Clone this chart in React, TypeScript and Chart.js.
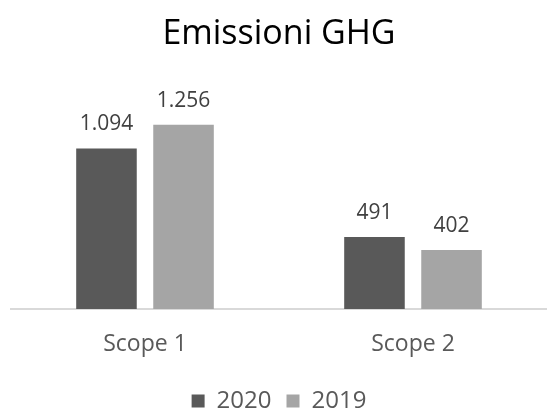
import React, { useEffect, useRef } from "react";
import { Chart, registerables } from "chart.js";

Chart.register(...registerables);

const categories = ["Scope 1", "Scope 2"];
const seriesNames = ["2020", "2019"];
const values2020 = [1094, 491];
const values2019 = [1256, 402];
const chartTitle = "Emissioni GHG";

const FONT = "'Open Sans', 'DejaVu Sans', sans-serif";

function fmt(v: number): string {
  return String(v).replace(/\B(?=(\d{3})+(?!\d))/g, ".");
}

const dataLabels = {
  id: "dataLabels",
  afterDatasetsDraw(chart: any) {
    const ctx = chart.ctx;
    ctx.save();
    ctx.font = `21px ${FONT}`;
    ctx.fillStyle = "#404040";
    ctx.textAlign = "center";
    ctx.textBaseline = "alphabetic";
    chart.data.datasets.forEach((ds: any, i: number) => {
      const meta = chart.getDatasetMeta(i);
      meta.data.forEach((el: any, j: number) => {
        ctx.fillText(fmt(ds.data[j]), el.x, el.y - 18);
      });
    });
    ctx.restore();
  },
};

export default function App() {
  const ref = useRef<HTMLCanvasElement>(null);
  useEffect(() => {
    document.body.style.margin = "0";
    const chart = new Chart(ref.current!, {
      type: "bar",
      data: {
        labels: categories,
        datasets: [
          { label: seriesNames[0], data: values2020, backgroundColor: "#595959" },
          { label: seriesNames[1], data: values2019, backgroundColor: "#a5a5a5" },
        ],
      },
      options: {
        responsive: false,
        animation: false,
        devicePixelRatio: 1,
        layout: { padding: { left: 11, right: 0, top: 0, bottom: 0 } },
        datasets: { bar: { categoryPercentage: 0.575, barPercentage: 0.786 } },
        scales: {
          x: {
            grid: { display: false, drawTicks: false },
            border: { display: true, color: "#d9d9d9", width: 2 },
            ticks: { color: "#595959", font: { family: FONT, size: 23 }, padding: 22 },
            afterFit: (s: any) => { s.height = 65; },
          },
          y: { display: false, min: 0, max: 1560 },
        },
        plugins: {
          title: {
            display: true,
            text: chartTitle,
            color: "#000000",
            font: { family: FONT, size: 34, weight: "normal" },
            padding: { top: 14, bottom: 25.2 },
          },
          legend: {
            position: "bottom",
            labels: {
              boxWidth: 13,
              boxHeight: 13,
              padding: 15,
              color: "#595959",
              font: { family: FONT, size: 24 },
            },
          },
          tooltip: { enabled: false },
        },
      },
      plugins: [dataLabels],
    });
    return () => chart.destroy();
  }, []);
  return (
    <div style={{ position: "fixed", left: 0, top: 0, width: 547, height: 408, overflow: "hidden", background: "#fff" }}>
      <canvas ref={ref} width={547} height={423} />
    </div>
  );
}
